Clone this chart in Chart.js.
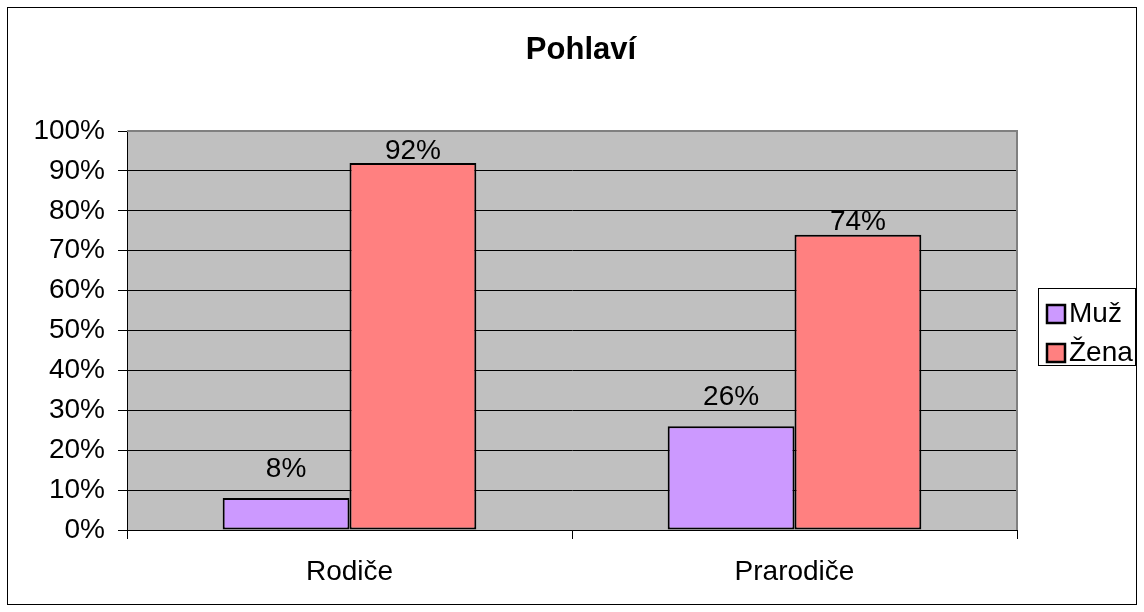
<!DOCTYPE html>
<html>
<head>
<meta charset="utf-8">
<script src="https://cdn.jsdelivr.net/npm/chart.js@4"></script>
<style>
  body { margin: 0; background: #fff; }
  #chart { display: block; }
</style>
</head>
<body>
<canvas id="chart" width="1144" height="612"></canvas>
<script>
const chart = document.getElementById("chart");

const title = "Pohlaví";
const groups = ["Rodiče", "Prarodiče"];
const seriesNames = ["Muž", "Žena"];
const muz = [8, 26];
const zena = [92, 74];
const yTicks = [0, 10, 20, 30, 40, 50, 60, 70, 80, 90, 100];

const colors = ["#CC99FF", "#FF8080"];
const labelGap = [30, 13];
const font = "Liberation Sans, Arial, sans-serif";

// grey plot area, outer frame, title, legend and value labels
const excelLook = {
  id: "excelLook",
  beforeDraw(c) {
    const a = c.chartArea;
    const ctx = c.ctx;
    ctx.save();
    ctx.fillStyle = "#C0C0C0";
    ctx.fillRect(a.left, a.top, a.right - a.left, a.bottom - a.top);
    ctx.restore();
  },
  beforeDatasetsDraw(c) {
    const a = c.chartArea;
    const ctx = c.ctx;
    ctx.save();
    ctx.strokeStyle = "#808080";
    ctx.lineWidth = 2;
    ctx.beginPath();
    ctx.moveTo(a.left, a.top);
    ctx.lineTo(a.right, a.top);
    ctx.lineTo(a.right, a.bottom);
    ctx.stroke();
    ctx.restore();
  },
  afterDraw(c) {
    const ctx = c.ctx;
    ctx.save();
    // outer frame
    ctx.strokeStyle = "#000";
    ctx.lineWidth = 1;
    ctx.strokeRect(7.5, 7.5, 1129, 597);

    // title
    ctx.fillStyle = "#000";
    ctx.font = "bold 31px " + font;
    ctx.textAlign = "center";
    ctx.textBaseline = "middle";
    ctx.fillText(title, 581, 50);

    // value labels
    ctx.font = "28px " + font;
    ctx.textBaseline = "bottom";
    c.data.datasets.forEach((ds, i) => {
      c.getDatasetMeta(i).data.forEach((bar, j) => {
        ctx.fillText(ds.data[j] + "%", bar.x, bar.y - labelGap[i] + 15);
      });
    });

    // legend
    ctx.strokeRect(1038.5, 288.5, 97, 77);
    ctx.textAlign = "left";
    ctx.textBaseline = "middle";
    c.data.datasets.forEach((ds, i) => {
      const y = 313 + i * 39;
      ctx.fillStyle = ds.backgroundColor;
      ctx.fillRect(1047, y - 8, 18, 18);
      ctx.lineWidth = 2.5;
      ctx.strokeStyle = "#000";
      ctx.strokeRect(1047, y - 8, 18, 18);
      ctx.fillStyle = "#000";
      ctx.fillText(ds.label, 1069, y + 1);
    });
    ctx.restore();
  }
};

new Chart(chart, {
  type: "bar",
  data: {
    labels: groups,
    datasets: [
      {
        label: seriesNames[0],
        data: muz,
        backgroundColor: colors[0],
        borderColor: "#000",
        borderWidth: 2,
        borderSkipped: false,
      },
      {
        label: seriesNames[1],
        data: zena,
        backgroundColor: colors[1],
        borderColor: "#000",
        borderWidth: 2,
        borderSkipped: false,
      },
    ],
  },
  options: {
    responsive: false,
    animation: false,
    layout: { padding: { left: 0, right: 127, top: 131, bottom: 0 } },
    datasets: { bar: { categoryPercentage: 0.57, barPercentage: 1 } },
    plugins: {
      legend: { display: false },
      title: { display: false },
      tooltip: { enabled: false },
    },
    scales: {
      x: {
        afterFit(s) { s.height = 82; },
        grid: {
          offset: true,
          drawOnChartArea: false,
          drawTicks: true,
          tickLength: 9,
          color: "#000",
        },
        border: { display: true, color: "#000", width: 1 },
        ticks: { color: "#000", padding: 16, font: { family: font, size: 28 } },
      },
      y: {
        min: 0,
        max: 100,
        afterFit(s) { s.width = 127; },
        afterBuildTicks(s) { s.ticks = yTicks.map(v => ({ value: v })); },
        grid: { color: "#000", lineWidth: 1, tickLength: 9 },
        border: { display: true, color: "#000", width: 1 },
        ticks: {
          color: "#000",
          padding: 13,
          font: { family: font, size: 28 },
          callback: v => v + "%",
        },
      },
    },
  },
  plugins: [excelLook],
});
</script>
</body>
</html>
